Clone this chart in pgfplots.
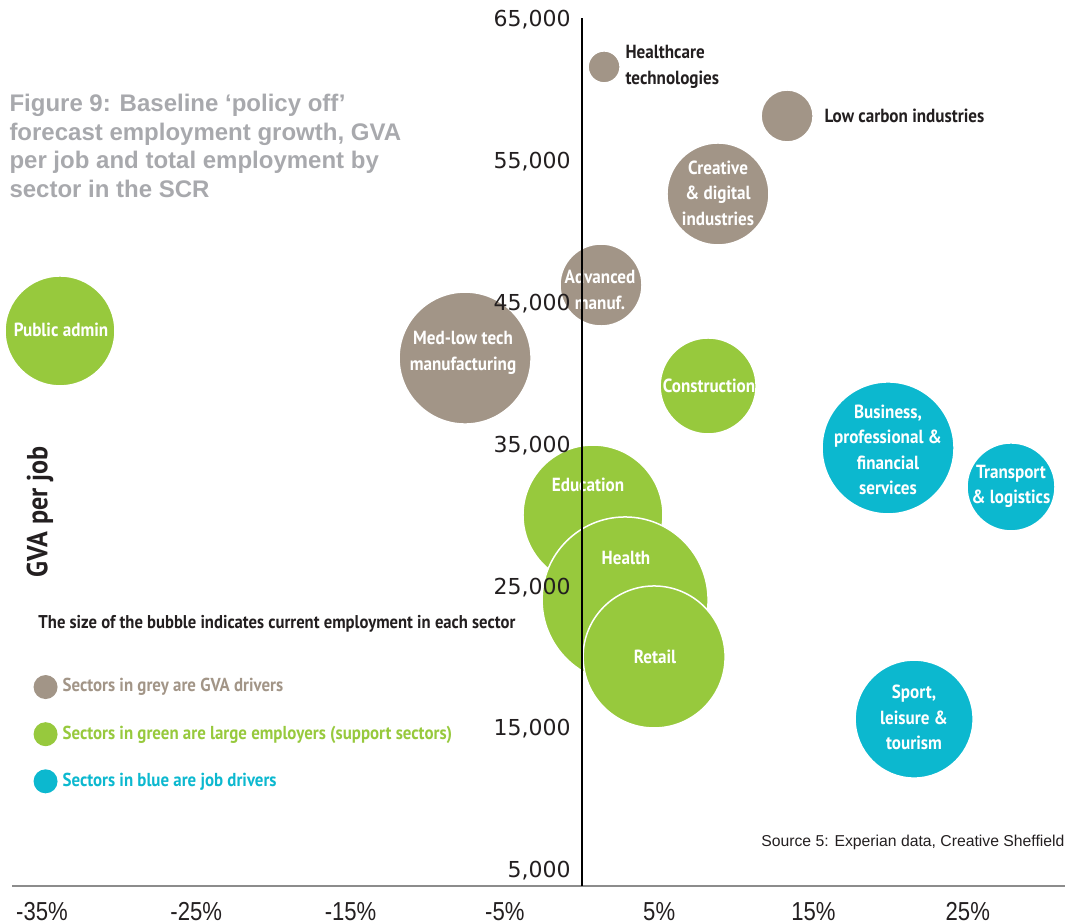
\documentclass[border=0pt]{standalone}
\usepackage{pgfplots}
\pgfplotsset{compat=1.18}
\usepackage{pgfplotstable}
\usepackage{fontspec}
\setmainfont{Liberation Sans}
\newfontfamily\ytickfont{DejaVu Sans}
\newfontfamily\xtickfont[FakeStretch=0.85]{Liberation Sans}
\newfontfamily\lab[FakeStretch=0.9]{PT Sans}
\definecolor{gvagrey}{HTML}{A29587}
\definecolor{empgreen}{HTML}{97C93D}
\definecolor{jobblue}{HTML}{0CB8CF}
\definecolor{titlegrey}{HTML}{A8A9AD}
\definecolor{axisgrey}{HTML}{8C8C8C}
\definecolor{txt}{HTML}{231F20}

% x = employment growth (%), y = GVA per job, r = bubble radius (pt)
\pgfplotstableread{
x y r
1.43 61690 6.4
13.29 58230 10.4
8.81 52730 20.4
1.23 46310 16.4
-7.58 41160 26.4
}\greydata
\pgfplotstableread{
x y r
-33.83 43070 22.0
8.17 39190 19.2
0.71 30090 28.0
2.79 24100 33.2
4.67 20080 28.4
}\greendata
\pgfplotstableread{
x y r
19.83 34820 26.4
27.80 32070 17.6
21.52 15700 23.6
}\bluedata

\tikzset{px/.style={shift={(-4.8pt,354.4pt)}, x=0.4pt, y=-0.4pt},
  blab/.style={font=\lab\bfseries\fontsize{7.6pt}{10.2pt}\selectfont, text=white, align=center, inner sep=0pt}}

\pgfplotsset{bubble/.style={scatter, only marks, mark=*, forget plot,
  scatter/use mapped color={draw=white, fill=#1},
  mark options={line width=0.6pt},
  visualization depends on={\thisrow{r} \as \rad},
  scatter/@pre marker code/.append style={/tikz/mark size=\rad}}}

\begin{document}
\begin{tikzpicture}
\begin{axis}[
  at={(0,0)}, anchor=south west,
  scale only axis, width=421.2pt, height=347.2pt,
  xmin=-36.94, xmax=31.30, ymin=3928, ymax=65141,
  axis x line=bottom, axis y line=middle,
  axis line style={-},
  x axis line style={draw=axisgrey, line width=1pt},
  y axis line style={draw=black, line width=0.5pt},
  set layers=axis on top, clip=false,
  xtick={-35,-25,-15,-5,5,15,25},
  xticklabels={-35\%,-25\%,-15\%,-5\%,5\%,15\%,25\%},
  ytick={5000,15000,25000,35000,45000,55000,65000},
  yticklabels={{5,000},{15,000},{25,000},{35,000},{45,000},{55,000},{65,000}},
  major tick length=0pt,
  xticklabel style={font=\xtickfont\fontsize{10.4pt}{12pt}\selectfont, text=txt, yshift=-3pt},
  yticklabel style={font=\ytickfont\fontsize{8.8pt}{10pt}\selectfont, text=txt, xshift=-1pt},
  legend style={at={(0.02,0.2454)}, anchor=north west, draw=none, fill=none,
    inner sep=0pt, row sep=8pt, font=\lab\bfseries\fontsize{7.5pt}{9pt}\selectfont,
    cells={anchor=west}},
  legend image code/.code={\fill[#1] (0pt,0pt) circle (4.8pt);},
]
\addplot[bubble=gvagrey] table[x=x,y=y] {\greydata};
\addplot[bubble=empgreen] table[x=x,y=y] {\greendata};
\addplot[bubble=jobblue] table[x=x,y=y] {\bluedata};
\addlegendimage{fill=gvagrey, draw=none}
\addlegendentry{\textcolor{gvagrey}{Sectors in grey are GVA drivers}}
\addlegendimage{fill=empgreen, draw=none}
\addlegendentry{\textcolor{empgreen}{Sectors in green are large employers (support sectors)}}
\addlegendimage{fill=jobblue, draw=none}
\addlegendentry{\textcolor{jobblue}{Sectors in blue are job drivers}}
\end{axis}
\begin{scope}[px]
% title
\node[anchor=north west, inner sep=0pt, align=left, text=titlegrey,
  font=\bfseries\fontsize{9.6pt}{11.4pt}\selectfont] at (9,94)
  {Figure 9: Baseline ‘policy off’\\forecast employment growth, GVA\\per job and total employment by\\sector in the SCR};
% axis label
\node[rotate=90, text=txt, inner sep=0pt, font=\lab\bfseries\fontsize{11.6pt}{13pt}\selectfont] at (40,512) {GVA per job};
% legend heading
\node[anchor=west, inner sep=0pt, text=txt, font=\lab\bfseries\fontsize{7.4pt}{9pt}\selectfont] at (38,624)
  {The size of the bubble indicates current employment in each sector};
% source
\node[anchor=east, inner sep=0pt, text=txt, font=\fontsize{6.3pt}{7.5pt}\selectfont] at (1065,842)
  {Source 5: Experian data, Creative Sheffield};
% bubble labels
\node[blab, text=txt, anchor=west, align=left] at (625,67) {Healthcare\\technologies};
\node[blab, text=txt, anchor=west, align=left] at (824,116) {Low carbon industries};
\node[blab] at (718,193) {Creative\\\& digital\\industries};
\node[blab] at (600,290) {Advanced\\manuf.};
\node[blab] at (463,353) {Med-low tech\\manufacturing};
\node[blab] at (61,330) {Public admin};
\node[blab] at (709,386) {Construction};
\node[blab] at (888,450) {Business,\\professional \&\\financial\\services};
\node[blab] at (1011,486.5) {Transport\\\& logistics};
\node[blab] at (588,485) {Education};
\node[blab] at (626,558) {Health};
\node[blab] at (655,657) {Retail};
\node[blab] at (914,717.5) {Sport,\\leisure \&\\tourism};
\pgfresetboundingbox
\path[use as bounding box] (0,0) rectangle (1065,924);
\end{scope}
\end{tikzpicture}
\end{document}
